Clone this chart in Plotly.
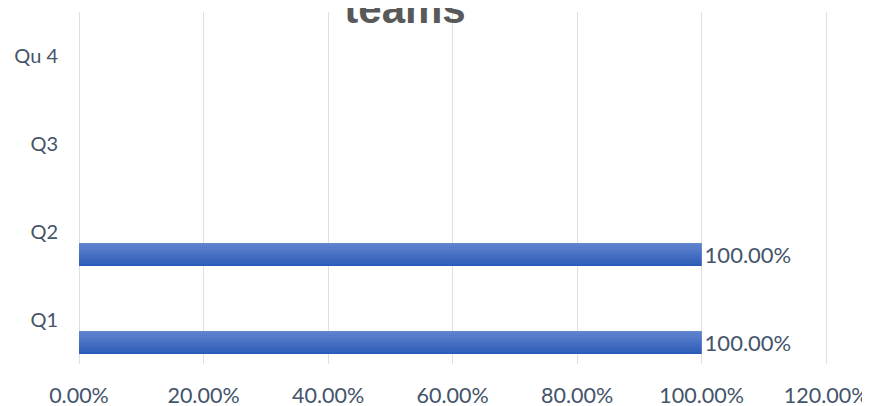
import plotly.graph_objects as go

categories = ["Q1", "Q2", "Q3", "Qu 4"]
values = [1.0, 1.0, None, None]
x_ticks = [0, 0.2, 0.4, 0.6, 0.8, 1.0, 1.2]
title_text = "teams"

TEXT_COLOR = "#44546A"
GRID_COLOR = "#DCDFE4"
FONT = "Lato"

BAR_OFFSET = -0.386
BAR_WIDTH = 0.261

fig = go.Figure()

# base bar with labels
fig.add_trace(go.Bar(
    y=categories, x=values, orientation="h",
    offset=BAR_OFFSET, width=BAR_WIDTH,
    marker=dict(color="#4070C4", line=dict(width=0)),
    texttemplate="%{x:.2%}", textposition="outside", constraintext="none",
    textfont=dict(family=FONT, size=22, color=TEXT_COLOR),
    cliponaxis=False, hoverinfo="skip", showlegend=False,
))

# gradient stripes (top lighter -> bottom darker)
top_rgb = (98, 133, 206)
bot_rgb = (45, 92, 184)
n = 10
sw = BAR_WIDTH / n
for i in range(n):
    t = i / (n - 1)
    c = tuple(round(bot_rgb[k] + (top_rgb[k] - bot_rgb[k]) * t) for k in range(3))
    fig.add_trace(go.Bar(
        y=categories, x=values, orientation="h",
        offset=BAR_OFFSET + i * sw, width=sw * 1.02,
        marker=dict(color="rgb(%d,%d,%d)" % c, line=dict(width=0)),
        hoverinfo="skip", showlegend=False,
    ))

W, H = 862, 398  # page body has an 8px margin

fig.update_layout(
    width=W, height=H,
    barmode="overlay",
    margin=dict(l=71, r=42, t=4, b=42, pad=0, autoexpand=False),
    paper_bgcolor="white", plot_bgcolor="white",
    font=dict(family=FONT, size=20, color=TEXT_COLOR),
    title=dict(
        text="<b>%s</b>" % title_text,
        font=dict(family="Liberation Sans", size=42, color="#595959"),
        x=397 / W, xanchor="center", xref="container",
        y=1.0, yanchor="middle", yref="container",
    ),
    xaxis=dict(
        range=[0, 1.203], tickvals=x_ticks, tickformat=".2%",
        showgrid=True, gridcolor=GRID_COLOR, gridwidth=1.3,
        zeroline=True, zerolinecolor=GRID_COLOR, zerolinewidth=1.3,
        showline=False, ticks="", ticklabelstandoff=16,
        ticklabeloverflow="allow",
        tickfont=dict(family=FONT, size=21.5, color=TEXT_COLOR),
        automargin=False, fixedrange=True,
    ),
    yaxis=dict(
        type="category", categoryorder="array", categoryarray=categories,
        range=[-0.5, 3.5], showgrid=False, zeroline=False, showline=False,
        ticks="", ticklabelstandoff=20,
        tickfont=dict(family=FONT, size=20, color=TEXT_COLOR),
        automargin=False, fixedrange=True,
    ),
)

fig.write_html("out.html")
